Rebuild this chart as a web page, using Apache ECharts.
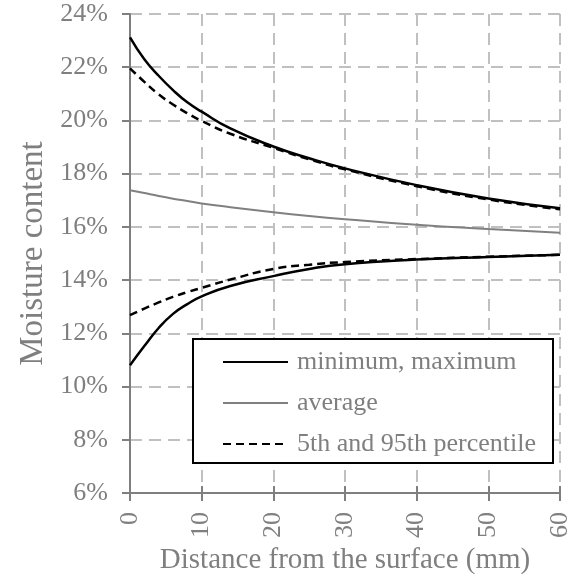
<!DOCTYPE html>
<html>
<head>
<meta charset="utf-8">
<script src="https://cdn.jsdelivr.net/npm/echarts@6/dist/echarts.min.js"></script>
<style>
  html, body { margin: 0; padding: 0; background: #fff; }
  #moisture-chart { width: 578px; height: 581px; }
</style>
</head>
<body>
<div id="moisture-chart"></div>
<script>
// distance from the surface (mm)
const distance = [0, 2, 4, 6, 8, 10, 14, 20, 25, 30, 40, 50, 60]
// moisture content (%)
const maximum = [23.12, 22.3, 21.68, 21.14, 20.68, 20.33, 19.7, 19.02, 18.58, 18.2, 17.57, 17.07, 16.7]
const p95 = [21.96, 21.45, 20.98, 20.6, 20.27, 19.98, 19.5, 18.97, 18.54, 18.16, 17.53, 17.03, 16.66]
const average = [17.38, 17.27, 17.16, 17.06, 16.97, 16.88, 16.74, 16.55, 16.41, 16.29, 16.08, 15.92, 15.78]
const p5 = [12.68, 12.93, 13.16, 13.37, 13.55, 13.71, 14.02, 14.42, 14.58, 14.68, 14.79, 14.88, 14.95]
const minimum = [10.8, 11.52, 12.2, 12.73, 13.1, 13.39, 13.78, 14.15, 14.42, 14.6, 14.77, 14.87, 14.95]

const xTicks = [0, 10, 20, 30, 40, 50, 60]
const yTicks = [6, 8, 10, 12, 14, 16, 18, 20, 22, 24]

const legendNames = ['minimum, maximum', 'average', '5th and 95th percentile']

const font = '"Liberation Serif", "Times New Roman", serif'
const gray = '#7f7f7f'

const pairs = vals => distance.map((d, i) => [d, vals[i]])

function lineSeries (name, vals, color, width, type) {
  return {
    name: name,
    type: 'line',
    data: pairs(vals),
    smooth: 0.5,
    symbol: 'none',
    lineStyle: { color: color, width: width, type: type },
    itemStyle: { color: color },
    z: 3
  }
}

const myChart = echarts.init(document.getElementById('moisture-chart'))
const option = {
  animation: false,
  grid: { left: 130, right: 18, top: 14, bottom: 88 },
  xAxis: [
    {
      type: 'value',
      min: xTicks[0],
      max: xTicks[xTicks.length - 1],
      interval: 10,
      name: 'Distance from the surface (mm)',
      nameLocation: 'middle',
      nameGap: 52,
      nameTextStyle: { fontFamily: font, fontSize: 29, color: gray },
      axisLine: { lineStyle: { color: gray, width: 2 } },
      axisTick: { length: 8, lineStyle: { color: gray, width: 2 } },
      axisLabel: { rotate: 90, margin: 19, fontFamily: font, fontSize: 26, color: gray },
      splitLine: { show: true, lineStyle: { color: '#c0c0c0', width: 2, type: [12, 7] } }
    },
    {
      type: 'value',
      position: 'bottom',
      min: xTicks[0],
      max: xTicks[xTicks.length - 1],
      interval: 10,
      axisLine: { show: false },
      axisTick: { inside: true, length: 7, lineStyle: { color: gray, width: 2 } },
      axisLabel: { show: false },
      splitLine: { show: false }
    }
  ],
  yAxis: {
    type: 'value',
    min: yTicks[0],
    max: yTicks[yTicks.length - 1],
    interval: 2,
    name: 'Moisture content',
    nameLocation: 'middle',
    nameGap: 70,
    nameTextStyle: { fontFamily: font, fontSize: 33, color: gray },
    axisLine: { show: true, lineStyle: { color: gray, width: 2 } },
    axisTick: { show: true, length: 8, lineStyle: { color: gray, width: 2 } },
    axisLabel: { formatter: '{value}%', margin: 22, fontFamily: font, fontSize: 26, color: gray },
    splitLine: { show: true, lineStyle: { color: '#c0c0c0', width: 2, type: [12, 7] } }
  },
  graphic: [
    {
      type: 'rect',
      z: 50,
      shape: { x: 193, y: 339, width: 360, height: 124 },
      style: { fill: '#fff', stroke: '#000', lineWidth: 2 }
    }
  ],
  legend: {
    data: legendNames,
    orient: 'vertical',
    left: 222,
    top: 349,
    padding: 0,
    z: 60,
    itemWidth: 65,
    itemHeight: 14,
    itemGap: 15,
    itemStyle: { opacity: 0 },
    textStyle: { fontFamily: font, fontSize: 26, lineHeight: 24, color: gray, padding: [0, 0, 0, 4] }
  },
  series: [
    lineSeries(legendNames[0], maximum, '#000', 2.5, 'solid'),
    lineSeries(legendNames[0], minimum, '#000', 2.5, 'solid'),
    lineSeries(legendNames[1], average, '#808080', 2, 'solid'),
    lineSeries(legendNames[2], p95, '#000', 2.5, [8, 5]),
    lineSeries(legendNames[2], p5, '#000', 2.5, [8, 5])
  ]
}
myChart.setOption(option)
</script>
</body>
</html>
